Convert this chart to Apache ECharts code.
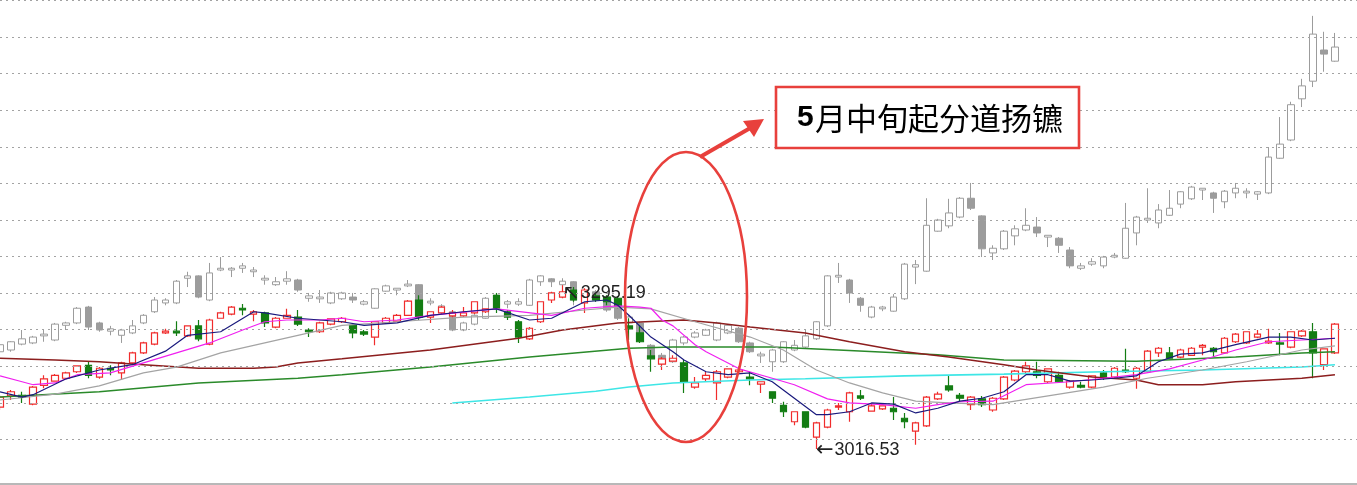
<!DOCTYPE html>
<html><head><meta charset="utf-8">
<script src="https://cdn.jsdelivr.net/npm/echarts/dist/echarts.min.js"></script>
<style>html,body{margin:0;padding:0;background:#fff}#c{width:1357px;height:485px}</style>
</head><body><div id="c"></div>
<script>
// trading-day slots (the picture shows no dates); last two slots are empty
const categories = Array.from({length: 124}, (_, i) => 'D' + (i + 1));

// main index: [open, close, low, high]
const mainOHLC = [
[3088,3105,3083,3108],[3107,3114,3100,3117],[3108,3105,3095,3114],[3093,3122,3091,3124],[3125,3136,3120,3142],
[3132,3142,3131,3144],[3137,3146,3136,3148],[3148,3158,3146,3159],[3159,3142,3137,3165],[3139,3154,3136,3156],
[3154,3151,3142,3159],[3146,3163,3134,3165],[3163,3180,3161,3182],[3180,3197,3178,3199],[3195,3214,3193,3216],
[3214,3217,3212,3221],[3217,3214,3209,3234],[3209,3226,3207,3227],[3226,3204,3200,3236],[3195,3236,3193,3238],
[3239,3248,3238,3250],[3246,3258,3244,3260],[3256,3253,3244,3263],[3246,3250,3234,3253],[3248,3231,3224,3250],
[3224,3239,3222,3241],[3239,3244,3238,3255],[3241,3229,3226,3253],[3219,3216,3207,3222],[3216,3231,3214,3233],
[3229,3238,3227,3239],[3233,3239,3231,3241],[3227,3214,3205,3229],[3216,3212,3209,3219],[3207,3233,3193,3234],
[3231,3239,3229,3241],[3234,3244,3233,3246],[3244,3268,3243,3270],[3270,3241,3236,3278],[3241,3250,3231,3251],
[3248,3258,3246,3260],[3243,3248,3239,3253],[3243,3248,3241,3258],[3248,3267,3246,3268],[3250,3255,3248,3256],
[3278,3256,3248,3282],[3250,3241,3236,3253],[3233,3207,3197,3236],[3204,3222,3202,3224],[3233,3267,3231,3268],
[3270,3282,3265,3284],[3275,3284,3273,3295.19],[3287,3270,3267,3292],[3265,3287,3248,3290],[3277,3270,3267,3282],
[3275,3267,3261,3278],[3273,3261,3256,3277],[3226,3221,3202,3239],[3214,3199,3197,3227],[3175,3170,3148,3185],
[3161,3170,3151,3173],[3166,3171,3165,3176],[3163,3131,3112,3168],[3122,3129,3119,3139],[3136,3142,3132,3148],
[3129,3148,3100,3151],[3139,3153,3137,3154],[3148,3151,3144,3154],[3139,3136,3125,3148],[3127,3131,3112,3132],
[3114,3103,3095,3115],[3091,3080,3071,3097],[3063,3080,3057,3081],[3080,3054,3052,3081],[3037,3061,3016.53,3063],
[3054,3083,3052,3085],[3088,3090,3083,3095],[3080,3112,3063,3114],[3107,3103,3100,3117],[3081,3090,3080,3093],
[3085,3090,3083,3091],[3086,3080,3066,3105],[3069,3063,3052,3078],[3047,3061,3024,3063],[3056,3105,3054,3107],
[3102,3110,3100,3114],[3124,3117,3114,3141],[3108,3103,3098,3112],[3092,3105,3083,3107],[3102,3092,3088,3107],
[3083,3103,3080,3105],[3102,3139,3100,3141],[3134,3149,3132,3151],[3148,3158,3146,3165],[3148,3142,3137,3165],
[3131,3153,3129,3154],[3142,3131,3129,3148],[3122,3132,3119,3134],[3125,3122,3120,3131],[3122,3141,3120,3142],
[3146,3139,3134,3151],[3139,3154,3137,3156],[3151,3148,3146,3187],[3137,3154,3119,3156],[3148,3183,3146,3185],
[3180,3188,3173,3190],[3180,3171,3170,3190],[3173,3185,3171,3187],[3176,3188,3175,3190],[3190,3193,3176,3195],
[3188,3182,3173,3190],[3180,3205,3178,3207],[3199,3212,3197,3214],[3197,3216,3195,3217],[3207,3212,3205,3219],
[3197,3200,3195,3221],[3197,3195,3176,3214],[3190,3216,3188,3217],[3209,3217,3207,3219],[3216,3180,3137,3231],
[3160,3187,3151,3188],[3180,3229,3178,3231]
];

// overlaid index (scaled to the main price axis): [open, close, low, high]
const overlayOHLC = [
[3182,3194,3177,3197],[3185,3199,3182,3200],[3195,3204,3193,3219],[3197,3207,3195,3209],[3209,3212,3199,3219],
[3202,3229,3200,3231],[3227,3231,3219,3233],[3231,3256,3229,3258],[3258,3224,3219,3260],[3231,3219,3216,3233],
[3217,3221,3210,3226],[3210,3219,3197,3221],[3214,3226,3212,3236],[3231,3244,3229,3246],[3250,3270,3248,3275],
[3265,3270,3261,3273],[3265,3302,3263,3304],[3307,3311,3292,3318],[3311,3275,3273,3312],[3270,3316,3268,3333],
[3321,3324,3319,3343],[3321,3324,3309,3326],[3324,3328,3316,3333],[3318,3321,3309,3326],[3304,3307,3296,3312],
[3296,3301,3294,3309],[3302,3306,3296,3319],[3304,3287,3284,3306],[3273,3277,3267,3282],[3272,3275,3265,3287],
[3265,3282,3263,3284],[3272,3282,3270,3284],[3275,3270,3265,3282],[3263,3267,3261,3270],[3256,3289,3255,3290],
[3285,3294,3284,3296],[3287,3290,3278,3290],[3294,3297,3292,3304],[3296,3250,3248,3297],[3265,3268,3261,3273],
[3256,3260,3253,3263],[3250,3219,3217,3251],[3219,3231,3217,3233],[3229,3244,3227,3246],[3239,3273,3238,3275],
[3278,3261,3260,3282],[3263,3267,3256,3270],[3263,3267,3260,3273],[3261,3304,3260,3306],[3301,3311,3294,3312],
[3306,3301,3292,3307],[3296,3302,3294,3307],[3301,3270,3261,3302],[3278,3282,3273,3287],[3284,3270,3267,3287],
[3275,3253,3250,3278],[3270,3239,3236,3275],[3231,3241,3227,3244],[3231,3202,3199,3233],[3193,3171,3168,3195],
[3176,3168,3165,3180],[3165,3202,3163,3204],[3197,3207,3193,3209],[3207,3214,3205,3217],[3210,3219,3209,3221],
[3202,3231,3200,3233],[3214,3227,3212,3229],[3222,3199,3197,3224],[3197,3182,3180,3199],[3175,3178,3163,3182],
[3165,3185,3148,3187],[3165,3199,3163,3200],[3185,3193,3183,3202],[3190,3209,3188,3219],[3204,3233,3202,3234],
[3226,3311,3224,3312],[3309,3312,3299,3333],[3304,3282,3265,3306],[3273,3261,3250,3275],[3241,3258,3239,3260],
[3255,3258,3251,3260],[3251,3275,3250,3280],[3272,3331,3270,3333],[3326,3330,3297,3338],[3319,3397,3318,3443],
[3387,3406,3386,3408],[3396,3418,3392,3442],[3411,3443,3409,3445],[3443,3426,3423,3469],[3413,3357,3343,3414],
[3350,3358,3338,3363],[3357,3387,3355,3389],[3379,3391,3363,3397],[3389,3397,3387,3426],[3394,3384,3377,3411],
[3377,3380,3360,3380],[3375,3363,3350,3377],[3355,3328,3324,3360],[3324,3328,3321,3333],[3331,3335,3328,3341],
[3328,3343,3324,3345],[3343,3346,3341,3350],[3341,3392,3340,3435],[3384,3411,3363,3413],[3406,3409,3401,3460],
[3401,3423,3392,3433],[3414,3426,3413,3457],[3433,3454,3426,3455],[3442,3462,3440,3464],[3457,3460,3440,3460],
[3452,3443,3418,3454],[3437,3455,3426,3457],[3452,3460,3443,3469],[3452,3455,3443,3460],[3450,3454,3440,3455],
[3452,3513,3450,3530],[3511,3535,3510,3581],[3542,3602,3540,3607],[3612,3634,3598,3646],[3642,3722,3632,3753],
[3695,3688,3658,3726],[3676,3700,3675,3724]
];

// moving averages: [slot index, value]
const ma5 = [[0,3114],[2,3105],[3,3109],[6,3136],[9,3151],[12,3160],[15,3183],[17,3210],[20,3216],[23,3250],[24,3248],[27,3239],[31,3233],[33,3227],[36,3231],[39,3244],[42,3250],[45,3255],[48,3236],[50,3239],[53,3267],[55,3270],[56,3261],[57,3244],[59,3207],[61,3182],[62,3168],[64,3148],[66,3143],[68,3146],[70,3131],[72,3103],[74,3075],[75,3075],[77,3080],[79,3095],[81,3093],[83,3078],[85,3086],[87,3098],[89,3103],[91,3114],[93,3143],[95,3143],[97,3132],[99,3134],[101,3137],[103,3141],[105,3165],[107,3178],[109,3180],[112,3194],[115,3207],[117,3207],[119,3202],[121,3205]];
const ma10 = [[0,3141],[2,3131],[3,3126],[5,3129],[7,3143],[10,3146],[13,3163],[16,3180],[19,3197],[22,3219],[24,3233],[26,3236],[29,3236],[31,3239],[33,3233],[36,3236],[39,3244],[45,3255],[50,3244],[53,3256],[56,3260],[58,3258],[59,3256],[60,3236],[61,3226],[63,3194],[64,3182],[67,3153],[70,3137],[72,3126],[75,3102],[77,3095],[80,3092],[83,3086],[85,3092],[87,3097],[90,3098],[93,3126],[97,3131],[100,3137],[103,3143],[106,3153],[109,3168],[112,3185],[115,3199],[118,3202],[121,3205]];
const ma20 = [[0,3100],[5,3110],[9,3124],[13,3146],[16,3156],[20,3180],[24,3197],[27,3210],[31,3227],[36,3233],[42,3241],[48,3244],[53,3253],[56,3258],[59,3255],[63,3233],[68,3207],[71,3185],[74,3151],[77,3129],[80,3112],[83,3098],[86,3095],[90,3092],[95,3107],[100,3122],[104,3137],[109,3151],[113,3165],[118,3185],[121,3192]];
const maBrown = [[0,3171],[5,3168],[9,3165],[13,3160],[18,3154],[23,3154],[25,3156],[27,3163],[31,3170],[39,3185],[47,3205],[51,3219],[56,3231],[62,3236],[65,3231],[68,3224],[73,3214],[77,3199],[82,3182],[86,3173],[91,3160],[94,3151],[99,3139],[103,3134],[105,3126],[109,3126],[112,3131],[118,3137],[121,3143]];
const maGreen = [[0,3105],[9,3114],[18,3129],[27,3137],[31,3143],[39,3156],[48,3173],[57,3188],[61,3190],[70,3190],[76,3185],[85,3177],[91,3168],[103,3166],[112,3173],[118,3180],[121,3182]];
const maCyan = [[41,3095],[48,3105],[54,3115],[57,3122],[61,3129],[68,3134],[73,3136],[82,3141],[91,3144],[100,3148],[109,3151],[118,3156],[121,3160]];

const gridLevels = [3779,3717,3655,3592,3530,3468,3406,3344,3282,3220,3157,3095,3033];
const highMark = {index: 51, value: 3295.19, text: '3295.19'};
const lowMark = {index: 74, value: 3016.53, text: '3016.53'};
const noteText = {num: '5', rest: '月中旬起分道扬镳'};

const chart = echarts.init(document.getElementById('c'), null, {renderer: 'canvas'});
const lineS = (name, data, color, width, z) => ({
  name, type: 'line', data, z, symbol: 'none', smooth: false, silent: true,
  lineStyle: {color, width}, connectNulls: true
});
const markRich = {
  a: {fontSize: 21, fontFamily: 'DejaVu Sans', color: '#222', padding: [0, 1, 0, 0]},
  t: {fontSize: 18, fontFamily: 'Liberation Sans, Arial, sans-serif', color: '#222'}
};
chart.setOption({
  animation: false,
  backgroundColor: '#fff',
  grid: {left: 0, right: 0, top: 0, bottom: 1},
  xAxis: {
    type: 'category', data: categories, boundaryGap: false,
    axisLine: {show: true, lineStyle: {color: '#a0a0a0', width: 1.5}},
    axisTick: {show: false}, axisLabel: {show: false}, splitLine: {show: false}
  },
  yAxis: {
    type: 'value', min: 2957.2, max: 3780, scale: true,
    axisLine: {show: false}, axisTick: {show: false}, axisLabel: {show: false}, splitLine: {show: false}
  },
  series: [
    {
      name: 'grid', type: 'line', data: [], z: 1, silent: true,
      markLine: {
        silent: true, symbol: ['none', 'none'], label: {show: false},
        lineStyle: {type: [2, 4], color: '#a3a3a3', width: 1},
        data: gridLevels.map(v => ({yAxis: v}))
      }
    },
    {
      name: 'overlay', type: 'candlestick', data: overlayOHLC, z: 2, barWidth: 7, clip: false, silent: true,
      itemStyle: {color: '#ffffff', color0: '#9c9c9c', borderColor: '#9c9c9c', borderColor0: '#9c9c9c', borderWidth: 1}
    },
    {
      name: 'main', type: 'candlestick', data: mainOHLC, z: 3, barWidth: 7, clip: false, silent: true,
      itemStyle: {color: '#ffffff', color0: '#137d13', borderColor: '#f02c2c', borderColor0: '#137d13', borderWidth: 1.2},
      markPoint: {
        symbol: 'circle', symbolSize: 1, silent: true,
        itemStyle: {color: 'rgba(0,0,0,0)'},
        label: {show: true, position: 'right', distance: 0, rich: markRich},
        data: [
          {coord: [highMark.index, highMark.value], label: {formatter: '{a|↖}{t|' + highMark.text + '}', offset: [-1, 8]}},
          {coord: [lowMark.index, lowMark.value], label: {formatter: '{a|←}{t|' + lowMark.text + '}', offset: [-1, 1]}}
        ]
      }
    },
    lineS('MA120', maCyan, '#3ee6e6', 1.6, 4),
    lineS('MA60', maGreen, '#2a8a2a', 1.5, 4),
    lineS('MA30', maBrown, '#8c1e1e', 1.5, 4),
    lineS('MA20', ma20, '#a4a4a4', 1.2, 5),
    lineS('MA10', ma10, '#f020f0', 1.2, 6),
    lineS('MA5', ma5, '#1b1b7e', 1.2, 7)
  ],
  graphic: [
    {type: 'ellipse', z: 100, shape: {cx: 686, cy: 297, rx: 61, ry: 145},
     style: {fill: 'none', stroke: '#e8403c', lineWidth: 2.6}},
    {type: 'line', z: 100, shape: {x1: 700, y1: 157, x2: 752, y2: 127},
     style: {stroke: '#e8403c', lineWidth: 4}},
    {type: 'polygon', z: 100, shape: {points: [[764, 119], [743, 121], [754, 137]]},
     style: {fill: '#e8403c'}},
    {type: 'rect', z: 100, shape: {x: 776, y: 87, width: 303, height: 61},
     style: {fill: '#ffffff', stroke: '#e8403c', lineWidth: 2.6}},
    {type: 'text', z: 101, x: 797, y: 118,
     style: {text: noteText.num, font: 'bold 30px "Liberation Sans", Arial, sans-serif', fill: '#000', textVerticalAlign: 'middle'}},
    {type: 'text', z: 101, x: 815, y: 118,
     style: {text: noteText.rest, font: '31px "Noto Sans CJK SC", sans-serif', fill: '#000', textVerticalAlign: 'middle'}}
  ]
});
</script>
</body></html>
